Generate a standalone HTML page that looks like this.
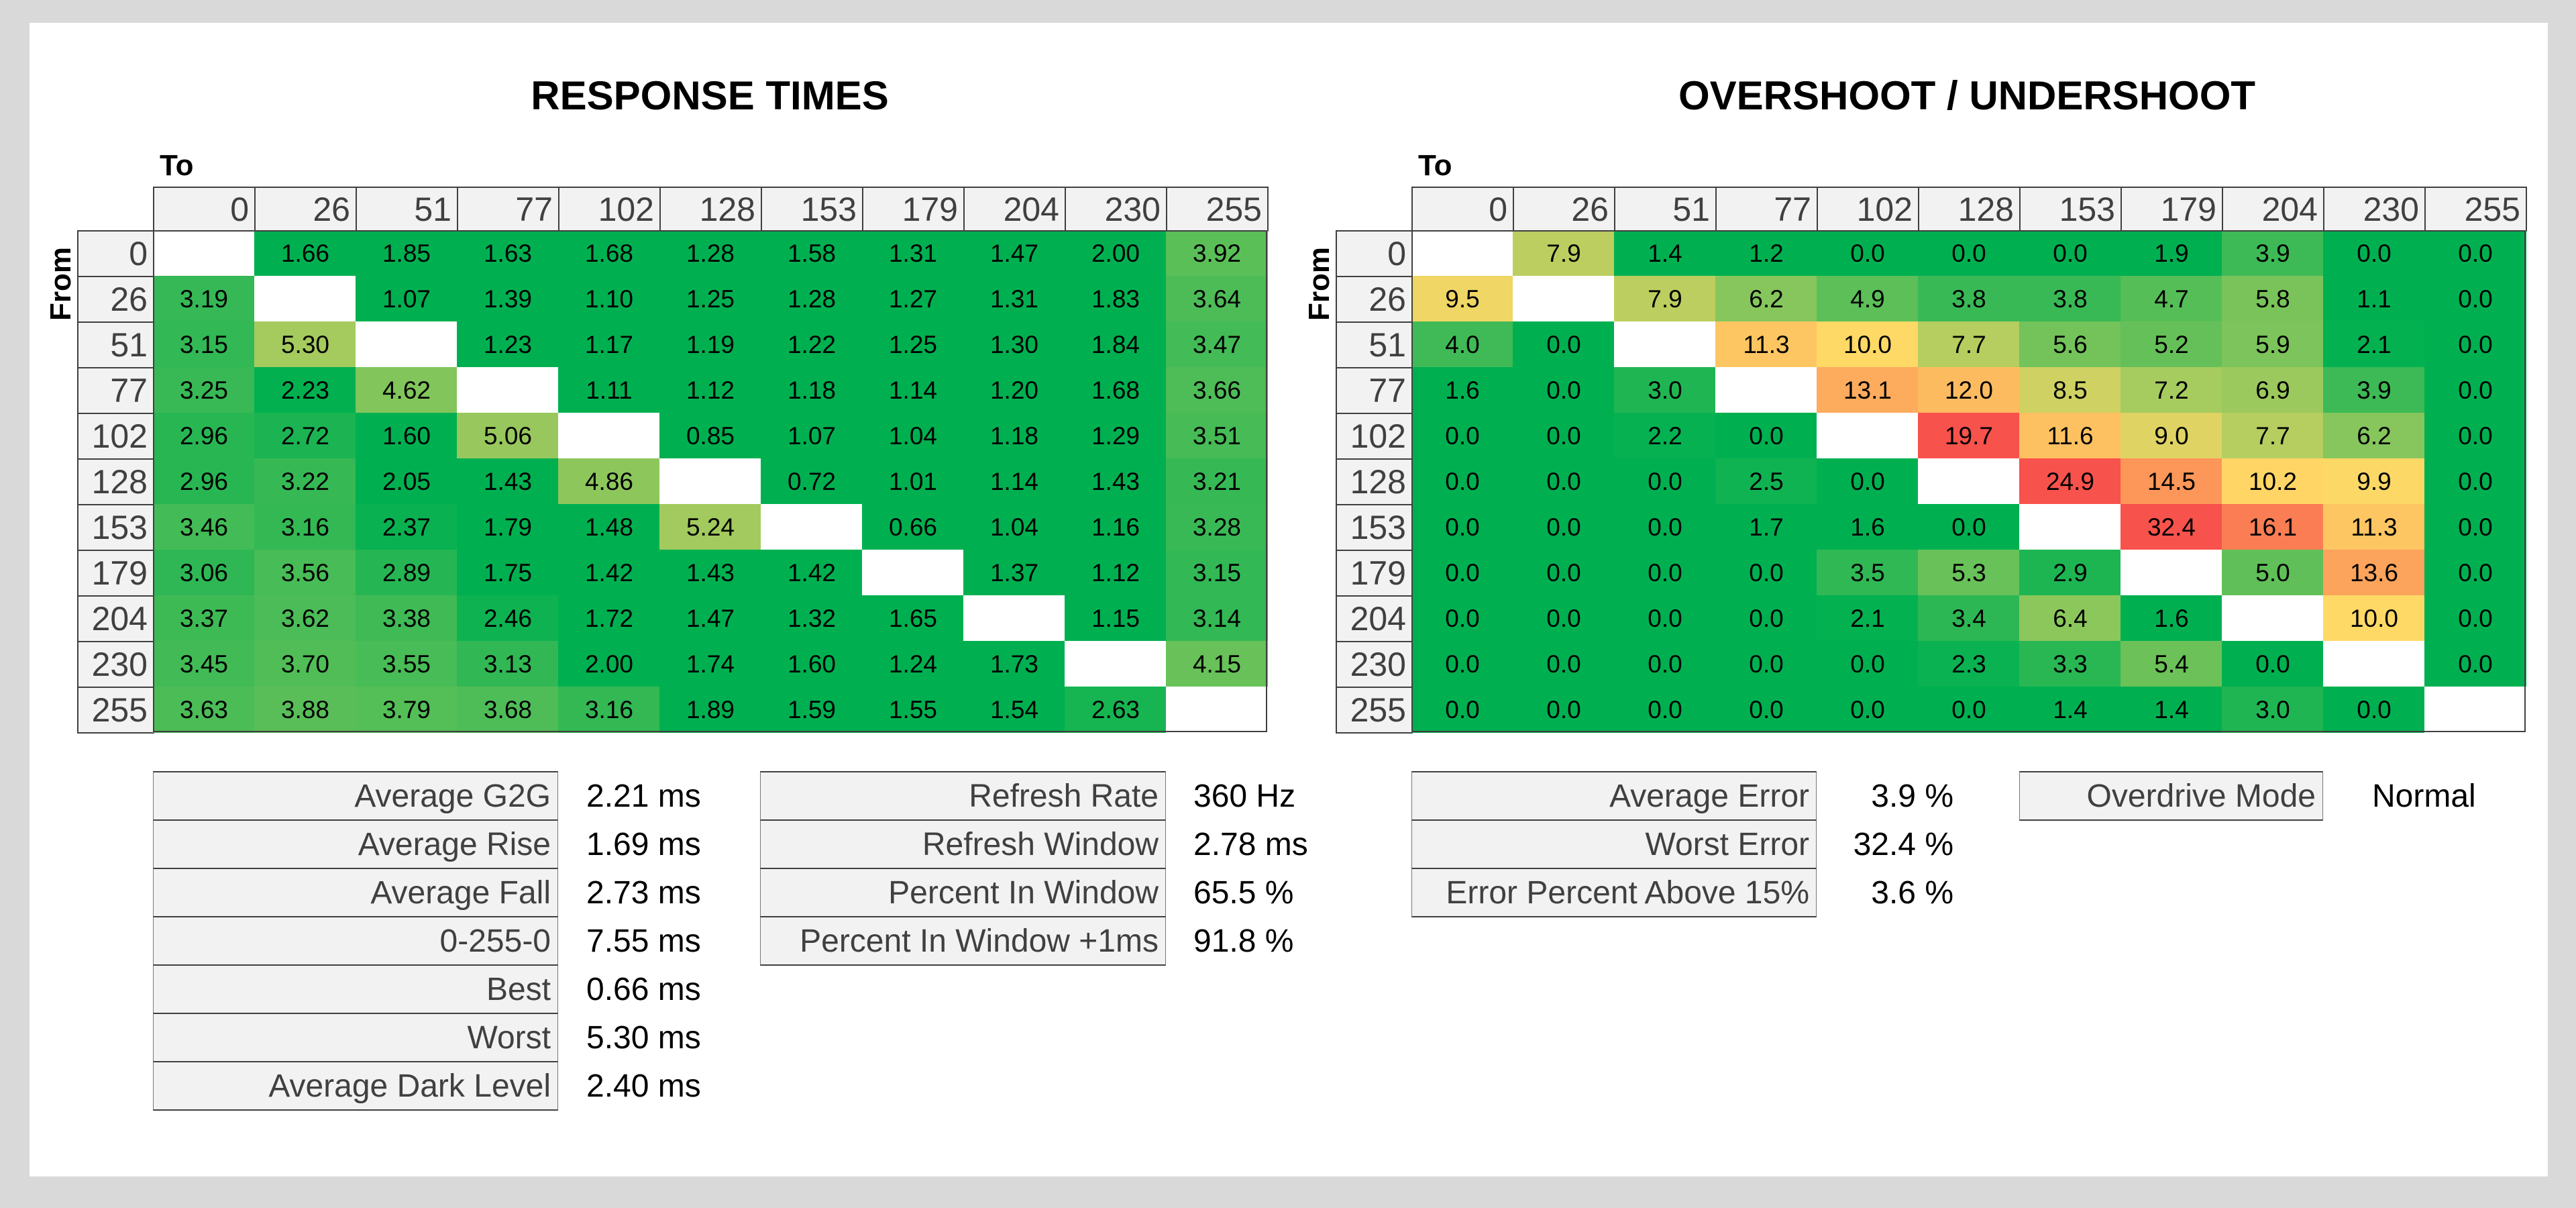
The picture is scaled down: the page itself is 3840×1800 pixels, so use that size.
<!DOCTYPE html>
<html><head><meta charset="utf-8">
<style>
html,body{margin:0;padding:0}
body{width:3840px;height:1800px;background:#d9d9d9;position:relative;overflow:hidden;font-family:"Liberation Sans Narrow","Liberation Sans",sans-serif}
#panel{position:absolute;left:44px;top:34px;width:3754px;height:1719px;background:#fff}
.a{position:absolute;box-sizing:border-box}
.title{font-family:"Liberation Sans",sans-serif;font-weight:bold;font-size:60px;color:#000;text-align:center;width:1200px}
.hdr{background:#f2f2f2;border:2px solid #404040;color:#404040;font-size:50px;text-align:right;padding-right:8px;display:flex;align-items:center;justify-content:flex-end}
.cell{color:#000;font-size:37px;display:flex;align-items:center;justify-content:center}
.lab{background:#f2f2f2;border-top:2px solid #404040;border-bottom:2px solid #404040;border-left:1px solid #777;border-right:1px solid #777;color:#404040;font-size:48px;display:flex;align-items:center;justify-content:flex-end;padding-right:10px}
.val{color:#000;font-size:48px;display:flex;align-items:center}
.axl{font-family:"Liberation Sans",sans-serif;font-weight:bold;font-size:44px;color:#000}
</style></head>
<body>
<div id="panel"></div>
<div class="a title" style="left:458px;top:108px">RESPONSE TIMES</div>
<div class="a title" style="left:2332px;top:108px">OVERSHOOT / UNDERSHOOT</div>
<script>
const levels=[0,26,51,77,102,128,153,179,204,230,255];
const rtRows=[
[null,1.66,1.85,1.63,1.68,1.28,1.58,1.31,1.47,2.00,3.92],
[3.19,null,1.07,1.39,1.10,1.25,1.28,1.27,1.31,1.83,3.64],
[3.15,5.30,null,1.23,1.17,1.19,1.22,1.25,1.30,1.84,3.47],
[3.25,2.23,4.62,null,1.11,1.12,1.18,1.14,1.20,1.68,3.66],
[2.96,2.72,1.60,5.06,null,0.85,1.07,1.04,1.18,1.29,3.51],
[2.96,3.22,2.05,1.43,4.86,null,0.72,1.01,1.14,1.43,3.21],
[3.46,3.16,2.37,1.79,1.48,5.24,null,0.66,1.04,1.16,3.28],
[3.06,3.56,2.89,1.75,1.42,1.43,1.42,null,1.37,1.12,3.15],
[3.37,3.62,3.38,2.46,1.72,1.47,1.32,1.65,null,1.15,3.14],
[3.45,3.70,3.55,3.13,2.00,1.74,1.60,1.24,1.73,null,4.15],
[3.63,3.88,3.79,3.68,3.16,1.89,1.59,1.55,1.54,2.63,null]];
const osRows=[
[null,7.9,1.4,1.2,0,0,0,1.9,3.9,0,0],
[9.5,null,7.9,6.2,4.9,3.8,3.8,4.7,5.8,1.1,0],
[4.0,0,null,11.3,10.0,7.7,5.6,5.2,5.9,2.1,0],
[1.6,0,3.0,null,13.1,12.0,8.5,7.2,6.9,3.9,0],
[0,0,2.2,0,null,19.7,11.6,9.0,7.7,6.2,0],
[0,0,0,2.5,0,null,24.9,14.5,10.2,9.9,0],
[0,0,0,1.7,1.6,0,null,32.4,16.1,11.3,0],
[0,0,0,0,3.5,5.3,2.9,null,5.0,13.6,0],
[0,0,0,0,2.1,3.4,6.4,1.6,null,10.0,0],
[0,0,0,0,0,2.3,3.3,5.4,0,null,0],
[0,0,0,0,0,0,1.4,1.4,3.0,0,null]];
const rtStatLabels=["Average G2G","Average Rise","Average Fall","0-255-0","Best","Worst","Average Dark Level"];
const rtStatValues=["2.21 ms","1.69 ms","2.73 ms","7.55 ms","0.66 ms","5.30 ms","2.40 ms"];
const refLabels=["Refresh Rate","Refresh Window","Percent In Window","Percent In Window +1ms"];
const refValues=["360 Hz","2.78 ms","65.5 %","91.8 %"];
const osStatLabels=["Average Error","Worst Error","Error Percent Above 15%"];
const osStatValues=["3.9 %","32.4 %","3.6 %"];

const G=[0,176,80],Y=[255,217,102],R=[248,82,76];
function mix(a,b,t){t=Math.max(0,Math.min(1,t));return 'rgb('+a.map((v,i)=>Math.round(v+(b[i]-v)*t)).join(',')+')';}
function rtColor(v){return mix(G,Y,(v-2.2)/4.8);}
function osColor(v){return v<=10?mix(G,Y,(v-2)/8):mix(Y,R,(v-10)/9);}

function mk(cls,x,y,w,h,txt){const d=document.createElement('div');d.className='a '+cls;d.style.left=x+'px';d.style.top=y+'px';d.style.width=w+'px';d.style.height=h+'px';if(txt!==undefined)d.textContent=txt;document.body.appendChild(d);return d;}

function heat(x0,rows,colorFn,fmt,prefix){
  const labW=113,colW=151,top=278,hdrH=65,rowH=68,cx=x0+labW;
  const to=mk('axl',cx+10,222,100,50,'To');
  
  
  const fr=mk('axl',x0-84,top+hdrH+rowH*1.1-25,120,50,'From');
  fr.style.transform='rotate(-90deg)';
  
  
  levels.forEach((lv,i)=>{
    const h=mk('hdr',cx+i*colW,top,colW+2,hdrH+2,String(lv));
    
    
    const r=mk('hdr',x0,top+hdrH+i*rowH,labW+2,rowH+2,String(lv));
    
    
  });
  const frame=mk('',cx,top+hdrH,colW*11,rowH*11);
  frame.style.border='2px solid #404040';frame.style.zIndex=2;
  
  
  rows.forEach((row,r)=>row.forEach((v,c)=>{
    const y=top+hdrH+r*rowH;
    const d=mk('cell',cx+c*colW,y,colW+1,rowH+1,v===null?'':fmt(v));
    d.style.background=v===null?'#fff':colorFn(v);
    
    
  }));
}
heat(115,rtRows,rtColor,v=>v.toFixed(2),'rt');
heat(1991,osRows,osColor,v=>v.toFixed(1),'os');

function stats(x,w,vx,labels,values,prefix,alignRight,vw){
  labels.forEach((l,i)=>{
    const y=1149+i*72;
    const b=mk('lab',x,y,w,74,l);
    
    
    const v=mk('val',vx,y,vw||260,74,values[i]);
    if(alignRight)v.style.justifyContent='flex-end';
    
    
  });
}
stats(228,604,874,rtStatLabels,rtStatValues,'rt-stat');
stats(1133,605,1779,refLabels,refValues,'refresh-stat');
stats(2104,604,2700,osStatLabels,osStatValues,'os-stat',true,212);
stats(3010,453,3536,["Overdrive Mode"],["Normal"],'overdrive-stat');
</script>
</body></html>
